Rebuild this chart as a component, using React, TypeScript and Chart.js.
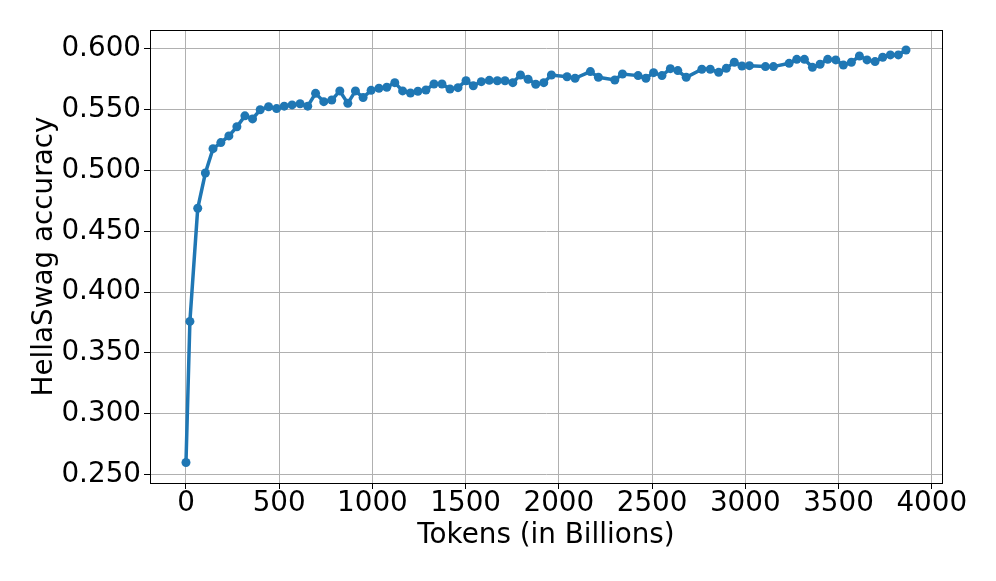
import React, { useEffect, useRef } from "react";
import { Chart, registerables } from "chart.js";

Chart.register(...registerables);

const tokens: number[] = [
  0, 21, 63, 104, 145, 187, 230, 273, 316, 357, 398, 443, 486, 527, 569, 612, 653, 695, 739, 782,
  825, 868, 909, 950, 993, 1035, 1077, 1120, 1162, 1204, 1244, 1287, 1330, 1373, 1416, 1459, 1502,
  1541, 1584, 1627, 1670, 1711, 1753, 1794, 1835, 1876, 1919, 1960, 2044, 2087, 2169, 2212, 2300,
  2341, 2425, 2467, 2508, 2553, 2598, 2638, 2683, 2767, 2812, 2857, 2898, 2941, 2982, 3022, 3108,
  3151, 3235, 3276, 3317, 3360, 3401, 3442, 3485, 3526, 3569, 3612, 3653, 3696, 3737, 3778, 3821,
  3862,
];

const accuracy: number[] = [
  0.26, 0.376, 0.469, 0.498, 0.518, 0.523, 0.5285, 0.536, 0.545, 0.5425, 0.55, 0.5525, 0.551,
  0.553, 0.554, 0.555, 0.553, 0.5635, 0.5567, 0.558, 0.5655, 0.5553, 0.5655, 0.56, 0.566, 0.5677,
  0.5685, 0.5723, 0.5655, 0.5638, 0.5652, 0.5663, 0.5712, 0.5712, 0.5671, 0.5682, 0.5739, 0.5698,
  0.5731, 0.5742, 0.5739, 0.5739, 0.5723, 0.5786, 0.5751, 0.571, 0.5723, 0.5786, 0.5772, 0.5759,
  0.5814, 0.5767, 0.5745, 0.5794, 0.5781, 0.5759, 0.5805, 0.5781, 0.5838, 0.5822, 0.5767, 0.5833,
  0.5833, 0.5808, 0.5841, 0.5891, 0.586, 0.5863, 0.5855, 0.5855, 0.5882, 0.5915, 0.5915, 0.5849,
  0.5874, 0.5915, 0.591, 0.5868, 0.5891, 0.5942, 0.591, 0.5896, 0.5932, 0.5951, 0.5951, 0.5992,
];

const xTicks: number[] = [0, 500, 1000, 1500, 2000, 2500, 3000, 3500, 4000];
const yTicks: number[] = [0.25, 0.3, 0.35, 0.4, 0.45, 0.5, 0.55, 0.6];

const xTitle = "Tokens (in Billions)";
const yTitle = "HellaSwag accuracy";

const FONT = "'DejaVu Sans', sans-serif";
const FS = 27.8;

const framePlugin = {
  id: "frame",
  afterDraw(chart: any) {
    const { ctx, chartArea } = chart;
    ctx.save();
    ctx.strokeStyle = "#000";
    ctx.lineWidth = 1;
    ctx.strokeRect(
      Math.round(chartArea.left) + 0.5,
      Math.round(chartArea.top) + 0.5,
      Math.round(chartArea.right - chartArea.left),
      Math.round(chartArea.bottom - chartArea.top)
    );
    ctx.restore();
  },
};

export default function App() {
  const ref = useRef<HTMLCanvasElement | null>(null);

  useEffect(() => {
    if (!ref.current) return;
    const chart = new Chart(ref.current, {
      type: "line",
      data: {
        datasets: [
          {
            data: tokens.map((t, i) => ({ x: t, y: accuracy[i] })),
            borderColor: "#1f77b4",
            backgroundColor: "#1f77b4",
            borderWidth: 3.5,
            pointRadius: 4.5,
            pointBorderWidth: 0,
            pointBackgroundColor: "#1f77b4",
            tension: 0,
          },
        ],
      },
      options: {
        animation: false,
        responsive: false,
        maintainAspectRatio: false,
        layout: { padding: { top: 30, right: 54, left: 0, bottom: 0 } },
        plugins: { legend: { display: false }, tooltip: { enabled: false } },
        scales: {
          x: {
            type: "linear",
            min: -193,
            max: 4055,
            afterBuildTicks: (axis: any) => {
              axis.ticks = xTicks.map((v) => ({ value: v }));
            },
            afterFit: (scale: any) => {
              scale.height = 98;
            },
            grid: { color: "#b0b0b0", lineWidth: 1, tickLength: 6, tickColor: "#000" },
            border: { display: true, color: "#000", width: 1 },
            ticks: {
              color: "#000",
              padding: -2,
              maxRotation: 0,
              autoSkip: false,
              font: { family: FONT, size: FS },
              callback: (v: any) => String(v),
            },
            title: {
              display: true,
              text: xTitle,
              color: "#000",
              font: { family: FONT, size: FS },
              padding: { top: 0, bottom: 29 },
            },
          },
          y: {
            type: "linear",
            min: 0.2431,
            max: 0.6156,
            afterBuildTicks: (axis: any) => {
              axis.ticks = yTicks.map((v) => ({ value: v }));
            },
            afterFit: (scale: any) => {
              scale.width = 150;
            },
            grid: { color: "#b0b0b0", lineWidth: 1, tickLength: 6, tickColor: "#000" },
            border: { display: true, color: "#000", width: 1 },
            ticks: {
              color: "#000",
              padding: 3,
              autoSkip: false,
              font: { family: FONT, size: FS },
              callback: (v: any) => Number(v).toFixed(3),
            },
            title: {
              display: true,
              text: yTitle,
              color: "#000",
              font: { family: FONT, size: FS },
              padding: { top: 28, bottom: 0 },
            },
          },
        },
      },
      plugins: [framePlugin],
    });
    return () => chart.destroy();
  }, []);

  return (
    <div style={{ position: "fixed", left: 0, top: 0, width: 996, height: 581, background: "#fff" }}>
      <canvas ref={ref} width={996} height={581} style={{ width: 996, height: 581, display: "block" }} />
    </div>
  );
}
